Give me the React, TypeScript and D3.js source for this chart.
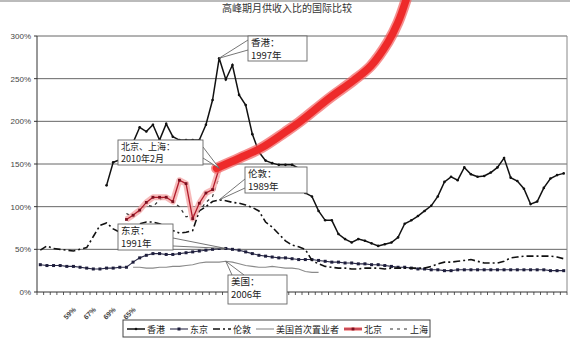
import React from "react";
import * as d3 from "d3";

const W = 570;
const H = 341;

const title = "高峰期月供收入比的国际比较";
const periods = d3.range(80);
const yTicks = [0, 50, 100, 150, 200, 250, 300];
const yTickLabels = ["0%", "50%", "100%", "150%", "200%", "250%", "300%"];
const xLabelIdx = [5, 8, 11, 14];
const xLabels = ["59%", "67%", "69%", "65%"];

const N = null;
// 香港 (i = 10..79)
const hongKong: (number | null)[] = [
  N, N, N, N, N, N, N, N, N, N,
  125, 152, 155, 160, 175, 193, 188, 196, 178, 197,
  182, 178, 178, 178, 178, 196, 225, 274, 249, 266,
  231, 219, 185, 164, 154, 151, 149, 149, 149, 145,
  116, 112, 95, 84, 84, 68, 62, 58, 62, 60,
  57, 54, 56, 58, 64, 80, 84, 89, 95, 101,
  112, 129, 135, 131, 146, 138, 135, 136, 140, 146,
  157, 134, 130, 121, 103, 106, 122, 133, 137, 139,
];
// 东京
const tokyo: (number | null)[] = [
  32, 31, 31, 31, 30, 30, 29, 28, 27, 27, 28, 28, 29, 29,
  35, 40, 43, 45, 45, 44, 44, 45, 46, 47, 48, 49, 50, 51,
  51, 50, 49, 47, 45, 43, 42, 41, 40, 40, 39, 38, 38, 38,
  37, 36, 35, 35, 34, 34, 33, 33, 32, 32, 31, 30, 29, 29,
  28, 27, 27, 26, 26, 25, 25, 26, 26, 26, 26, 26, 26, 26,
  26, 26, 26, 26, 26, 26, 26, 25, 25, 25,
];
// 伦敦
const london: (number | null)[] = [
  49, 54, 51, 50, 49, 48, 50, 52, 65, 78, 81, 74, 70, 72,
  75, 80, 82, 82, 80, 76, 72, 69, 70, 72, 95, 100, 106, 108,
  107, 105, 104, 102, 99, 95, 82, 76, 68, 60, 55, 53, 50, 37,
  33, 30, 29, 28, 28, 27, 27, 28, 28, 28, 27, 28, 28, 28,
  28, 28, 28, 30, 33, 35, 35, 36, 37, 38, 36, 34, 34, 34,
  36, 40, 41, 42, 42, 42, 42, 42, 41, 39,
];
// 美国首次置业者 (i = 14..42)
const usFirst: (number | null)[] = [
  N, N, N, N, N, N, N, N, N, N, N, N, N, N,
  29, 29, 28, 28, 29, 29, 30, 30, 31, 32, 34, 35, 35, 35,
  36, 35, 33, 31, 30, 29, 29, 30, 29, 28, 28, 27, 24, 23, 23,
];
// 北京 (i = 13..27)
const beijing: (number | null)[] = [
  N, N, N, N, N, N, N, N, N, N, N, N, N,
  85, 90, 96, 105, 111, 111, 111, 106, 131, 127, 86, 104, 116, 120, 145,
];
// 上海 (i = 13..27)
const shanghai: (number | null)[] = [
  N, N, N, N, N, N, N, N, N, N, N, N, N,
  92, 88, 95, 102, 100, 108, 112, 105, 100, 88, 90, 95, 105, 112, 135,
];
// hand-drawn red trend stroke (category index, value)
const trendIdx = [26.6, 30.1, 33.4, 36.9, 39.1, 43.6, 47.3, 49.9, 52.5, 54.0, 55.2];
const trendVal = [145, 157, 169, 187, 199, 227, 248, 265, 293, 316, 342];

const CJK = "'Noto Sans CJK SC', sans-serif";
const LAT = "'Liberation Sans', Arial, sans-serif";

export default function App() {
  const left = 37, right = 567, top = 36, bottom = 292;
  const xs = d3.scalePoint<number>().domain(periods).range([left, right]).padding(0.5);
  const step = xs.step();
  const x = (i: number) => left + step * (i + 0.5);
  const y = d3.scaleLinear().domain([0, 300]).range([bottom, top]);

  const line = d3
    .line<number | null>()
    .defined((d) => d != null)
    .x((_, i) => x(i))
    .y((d) => y(d as number));

  const trendLine = d3
    .line<number>()
    .x((d) => x(d))
    .y((_, i) => y(trendVal[i]))
    .curve(d3.curveCatmullRom);

  const pts = (arr: (number | null)[]) =>
    arr.map((v, i) => (v == null ? null : { i, v })).filter(Boolean) as { i: number; v: number }[];

  const callout = (
    key: string,
    bx: number, by: number, bw: number, bh: number,
    p1: [number, number], p2: [number, number], target: [number, number],
    lines: string[], fs: number
  ) => (
    <g key={key}>
      <path d={`M${p1[0]},${p1[1]}L${target[0]},${target[1]}L${p2[0]},${p2[1]}Z`} fill="#fff" stroke="none" />
      <path d={`M${p1[0]},${p1[1]}L${target[0]},${target[1]}L${p2[0]},${p2[1]}`} fill="none" stroke="#666" strokeWidth={0.9} />
      <rect x={bx} y={by} width={bw} height={bh} fill="#fff" stroke="#666" strokeWidth={0.9} />
      {lines.map((t, k) => (
        <text key={k} x={bx + 3} y={by + fs + 0.5 + k * (fs + 3)} fontSize={fs} fontFamily={CJK} fill="#222">
          {t}
        </text>
      ))}
    </g>
  );

  const legendItems = [
    { label: "香港", lx: 127, tx: 147, kind: "hk" },
    { label: "东京", lx: 170, tx: 190, kind: "tk" },
    { label: "伦敦", lx: 213, tx: 233, kind: "ld" },
    { label: "美国首次置业者", lx: 256, tx: 276, kind: "us" },
    { label: "北京", lx: 344, tx: 364, kind: "bj" },
    { label: "上海", lx: 390, tx: 410, kind: "sh" },
  ];
  const ly = 329;

  return (
    <svg width={W} height={H} style={{ position: "absolute", left: 0, top: 0, background: "#fff" }}>
      <rect x={0} y={0} width={W} height={H} fill="#fff" />
      <line x1={0} x2={W} y1={1} y2={1} stroke="#bbb" strokeWidth={2} />
      <text x={287} y={12} textAnchor="middle" fontSize={10} fontFamily={CJK} fill="#333">
        {title}
      </text>

      {/* grid */}
      {yTicks.map((t, k) => (
        <g key={t}>
          {t > 0 && <line x1={left} x2={right} y1={y(t)} y2={y(t)} stroke="#666" strokeWidth={1} />}
          <text x={31} y={y(t) + 3} textAnchor="end" fontSize={8} fontFamily={LAT} fill="#444">
            {yTickLabels[k]}
          </text>
          <line x1={left - 3} x2={left} y1={y(t)} y2={y(t)} stroke="#333" />
        </g>
      ))}
      <line x1={right} x2={right} y1={top} y2={bottom} stroke="#888" />
      <line x1={left} x2={left} y1={top} y2={bottom} stroke="#333" />
      <line x1={left} x2={right} y1={bottom} y2={bottom} stroke="#333" />
      {d3.range(81).map((k) => (
        <line key={k} x1={left + k * step} x2={left + k * step} y1={bottom} y2={bottom + 3} stroke="#333" strokeWidth={0.8} />
      ))}
      {xLabelIdx.map((i, k) => (
        <text
          key={k}
          transform={`translate(${x(i) + 3},${bottom + 18}) rotate(-45)`}
          textAnchor="end"
          fontSize={7}
          fontWeight="bold"
          fontFamily={LAT}
          fill="#444"
        >
          {xLabels[k]}
        </text>
      ))}

      {/* US */}
      <path d={line(usFirst) || ""} fill="none" stroke="#8a8a8a" strokeWidth={1.1} />
      {/* Tokyo */}
      <path d={line(tokyo) || ""} fill="none" stroke="#2a2a48" strokeWidth={1.1} />
      {pts(tokyo).map((p) => (
        <rect key={p.i} x={x(p.i) - 1.5} y={y(p.v) - 1.5} width={3} height={3} fill="#1e1e3c" />
      ))}
      {/* London */}
      <path d={line(london) || ""} fill="none" stroke="#111" strokeWidth={1.6} strokeDasharray="7,3,2,3" />
      {/* Shanghai */}
      <path d={line(shanghai) || ""} fill="none" stroke="#333" strokeWidth={1.2} strokeDasharray="3,4" />
      {/* Beijing */}
      <path d={line(beijing) || ""} fill="none" stroke="#f5a9a9" strokeWidth={6} strokeLinejoin="round" opacity={0.8} />
      <path d={line(beijing) || ""} fill="none" stroke="#b01a2a" strokeWidth={1.3} />
      {pts(beijing).map((p) => (
        <rect key={p.i} x={x(p.i) - 1.4} y={y(p.v) - 1.4} width={2.8} height={2.8} fill="#7a1020" />
      ))}
      {/* Hong Kong */}
      <path d={line(hongKong) || ""} fill="none" stroke="#111" strokeWidth={1.5} />
      {pts(hongKong).map((p) => (
        <circle key={p.i} cx={x(p.i)} cy={y(p.v)} r={1.3} fill="#111" />
      ))}

      {/* red hand-drawn stroke */}
      <path d={trendLine(trendIdx) || ""} fill="none" stroke="#f26060" strokeWidth={11} strokeLinecap="round" opacity={0.7} />
      <path d={trendLine(trendIdx) || ""} fill="none" stroke="#ee2a2a" strokeWidth={7.5} strokeLinecap="round" />

      {/* callouts */}
      {callout("hk", 248, 36, 59, 25, [248, 40], [248, 50], [x(27), y(274)], ["香港：", "1997年"], 9.5)}
      {callout("bjsh", 118, 140, 85, 25, [203, 147], [203, 158], [x(27), y(145)], ["北京、上海：", "2010年2月"], 9)}
      {callout("ld", 245, 167, 62, 26, [245, 179], [245, 188], [x(27), y(108)], ["伦敦：", "1989年"], 9.5)}
      {callout("tk", 118, 224, 55, 26, [173, 238], [173, 246], [x(28), y(51)], ["东京：", "1991年"], 9.5)}
      {callout("us", 228, 275, 59, 29, [232, 275], [244, 275], [x(28), y(36)], ["美国：", "2006年"], 9.5)}

      {/* legend */}
      <rect x={123} y={320} width={307} height={17} fill="#fff" stroke="#444" strokeWidth={1} />
      {legendItems.map((it) => (
        <g key={it.label}>
          {it.kind === "hk" && (
            <g>
              <line x1={it.lx} x2={it.lx + 18} y1={ly} y2={ly} stroke="#111" strokeWidth={1.5} />
              <circle cx={it.lx + 9} cy={ly} r={1.3} fill="#111" />
            </g>
          )}
          {it.kind === "tk" && (
            <g>
              <line x1={it.lx} x2={it.lx + 18} y1={ly} y2={ly} stroke="#2a2a48" strokeWidth={1.1} />
              <rect x={it.lx + 7.5} y={ly - 1.5} width={3} height={3} fill="#1e1e3c" />
            </g>
          )}
          {it.kind === "ld" && (
            <line x1={it.lx} x2={it.lx + 18} y1={ly} y2={ly} stroke="#111" strokeWidth={1.6} strokeDasharray="7,3,2,3" />
          )}
          {it.kind === "us" && <line x1={it.lx} x2={it.lx + 18} y1={ly} y2={ly} stroke="#8a8a8a" strokeWidth={1.1} />}
          {it.kind === "bj" && (
            <g>
              <line x1={it.lx} x2={it.lx + 18} y1={ly} y2={ly} stroke="#f5a9a9" strokeWidth={4} />
              <line x1={it.lx} x2={it.lx + 18} y1={ly} y2={ly} stroke="#b01a2a" strokeWidth={1.3} />
              <rect x={it.lx + 7.6} y={ly - 1.4} width={2.8} height={2.8} fill="#7a1020" />
            </g>
          )}
          {it.kind === "sh" && (
            <line x1={it.lx} x2={it.lx + 18} y1={ly} y2={ly} stroke="#333" strokeWidth={1.2} strokeDasharray="3,4" />
          )}
          <text x={it.tx} y={ly + 3.5} fontSize={9} fontFamily={CJK} fill="#222">
            {it.label}
          </text>
        </g>
      ))}
    </svg>
  );
}
